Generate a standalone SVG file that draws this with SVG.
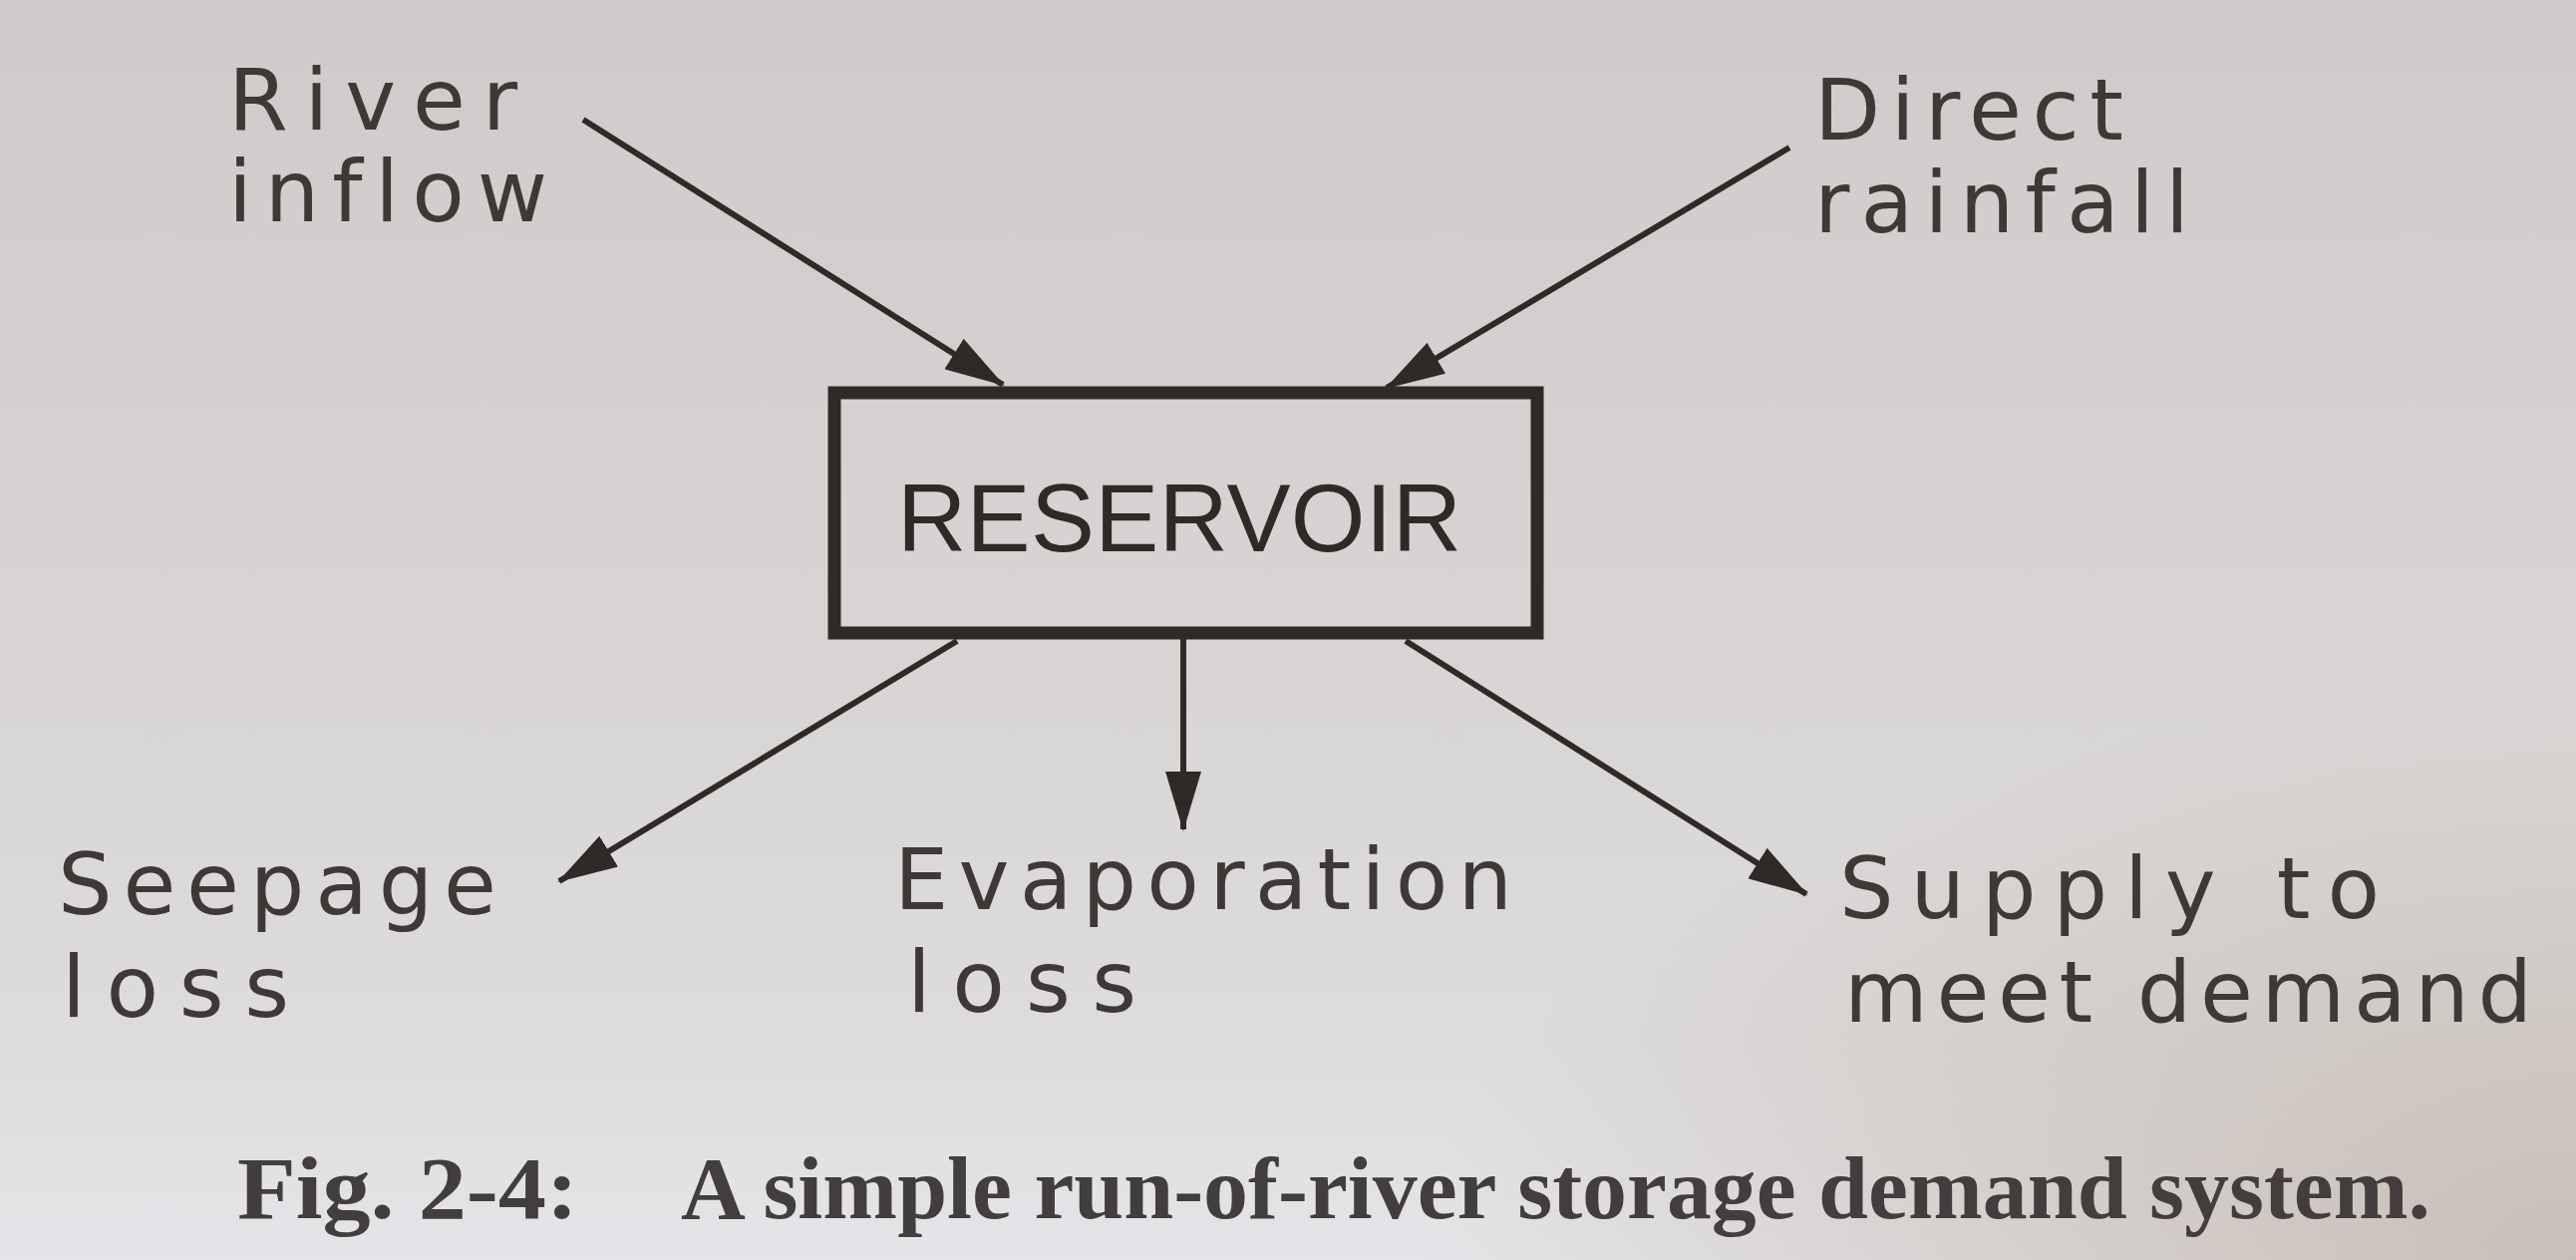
<svg xmlns="http://www.w3.org/2000/svg" width="2584" height="1264" viewBox="0 0 2584 1264">
  <defs>
    <linearGradient id="paper" x1="0" y1="0" x2="0" y2="1">
      <stop offset="0" stop-color="#cfcbca"/>
      <stop offset="0.5" stop-color="#d7d4d3"/>
      <stop offset="0.82" stop-color="#dddbdc"/>
      <stop offset="1" stop-color="#e5e4e8"/>
    </linearGradient>
    <radialGradient id="tint" cx="1" cy="1" r="0.45">
      <stop offset="0" stop-color="#b9ab9c" stop-opacity="0.65"/>
      <stop offset="1" stop-color="#b9ab9c" stop-opacity="0"/>
    </radialGradient>
    <marker id="arrow" viewBox="0 0 60 36" refX="58" refY="18" markerWidth="60" markerHeight="36" markerUnits="userSpaceOnUse" orient="auto">
      <path d="M0,0 L60,18 L0,36 Z" fill="#2f2a28"/>
    </marker>
  </defs>
  <style>
    .label { font-family: "DejaVu Sans", "Liberation Sans", sans-serif; font-size: 86px; fill: #3e3936; font-variant-ligatures: none; }
    .title { font-family: "Liberation Sans", Arial, sans-serif; font-size: 96px; fill: #2f2a28; }
    .caption { font-family: "Liberation Serif", "Times New Roman", serif; font-weight: bold; font-size: 88px; fill: #423e3e; }
    .conn { stroke: #2f2a28; stroke-width: 6; fill: none; marker-end: url(#arrow); }
    .box { fill: none; stroke: #2f2a28; stroke-width: 13; }
  </style>

  <rect x="0" y="0" width="2584" height="1264" fill="url(#paper)"/>
  <rect x="0" y="0" width="2584" height="1264" fill="url(#tint)"/>

  <g id="connectors">
    <line class="conn" x1="585" y1="120" x2="1006" y2="386"/>
    <line class="conn" x1="1795" y1="148" x2="1391" y2="389"/>
    <line class="conn" x1="960" y1="643" x2="561" y2="884"/>
    <line class="conn" x1="1187" y1="641" x2="1187" y2="832"/>
    <line class="conn" x1="1410" y1="643" x2="1812" y2="897"/>
  </g>

  <g id="reservoir">
    <rect class="box" x="837" y="394" width="705" height="241"/>
    <text class="title" x="900" y="553" textLength="566" lengthAdjust="spacing">RESERVOIR</text>
  </g>

  <g id="river-inflow">
    <text class="label" x="229" y="130" textLength="290" lengthAdjust="spacing">River</text>
    <text class="label" x="229" y="222" textLength="320" lengthAdjust="spacing">inflow</text>
  </g>

  <g id="direct-rainfall">
    <text class="label" x="1820" y="140" textLength="310" lengthAdjust="spacing">Direct</text>
    <text class="label" x="1820" y="233" textLength="376" lengthAdjust="spacing">rainfall</text>
  </g>

  <g id="seepage-loss">
    <text class="label" x="58" y="917" textLength="440" lengthAdjust="spacing">Seepage</text>
    <text class="label" x="62" y="1020" textLength="228" lengthAdjust="spacing">loss</text>
  </g>

  <g id="evaporation-loss">
    <text class="label" x="897" y="912" textLength="620" lengthAdjust="spacing">Evaporation</text>
    <text class="label" x="910" y="1015" textLength="230" lengthAdjust="spacing">loss</text>
  </g>

  <g id="supply">
    <text class="label" x="1845" y="921" textLength="542" lengthAdjust="spacing">Supply to</text>
    <text class="label" x="1850" y="1025" textLength="690" lengthAdjust="spacing">meet demand</text>
  </g>

  <g id="caption">
    <text class="caption" y="1222"><tspan x="238" textLength="342" lengthAdjust="spacingAndGlyphs">Fig. 2-4:</tspan><tspan x="683" textLength="1755" lengthAdjust="spacingAndGlyphs">A simple run-of-river storage demand system.</tspan></text>
  </g>
</svg>
